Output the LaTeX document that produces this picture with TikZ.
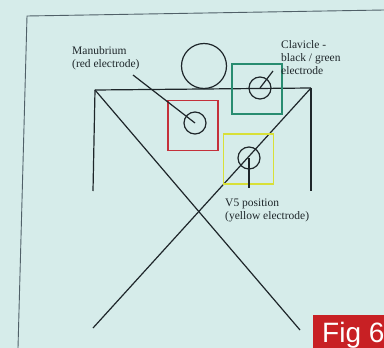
\documentclass[tikz,border=0pt]{standalone}
\usepackage{fontspec}
\setmainfont{Liberation Serif}
\newfontfamily\figfont{Liberation Sans}
\usepackage{xcolor}
\definecolor{screen}{RGB}{214,236,234}
\definecolor{ink}{RGB}{30,38,42}
\definecolor{framegray}{RGB}{80,96,104}
\definecolor{redbox}{RGB}{196,48,58}
\definecolor{greenbox}{RGB}{40,140,112}
\definecolor{yellowbox}{RGB}{216,224,56}
\definecolor{figred}{RGB}{200,32,36}

\begin{document}
\begin{tikzpicture}[x=1pt,y=-1pt]
		\tikzstyle{body}=[draw,line width = 1.2pt,-,ink]
		\tikzstyle{pad}=[draw, circle, line width=1.2pt, ink, minimum size=22pt, inner sep=0pt]
		\tikzstyle{box}=[draw, line width=1.3pt, minimum size=50pt, inner sep=0pt]
		\tikzstyle{note}=[anchor=north west, inner sep=0pt, align=left, text=ink, font=\fontsize{11.5}{13}\selectfont]

		\useasboundingbox (0,0) rectangle (384,348);
		\fill[screen] (0,0) rectangle (384,348);
		\clip (0,0) rectangle (384,348);

		% slide frame
		\draw[framegray, line width=.9pt] (18,348) -- (27,16) -- (384,10);

		% head and trunk
		\node[draw, circle, line width=1.2pt, ink, minimum size=45pt, inner sep=0pt] (head) at (204,66) {};
		\coordinate (lsh) at (95,90);
		\coordinate (rsh) at (311,88);
		\coordinate (lhip) at (93,191);
		\coordinate (rhip) at (311,191);
		\coordinate (lft) at (93,328);
		\coordinate (rft) at (300,330);
		\draw[body] (lsh) -- (rsh);
		\draw[body] (lsh) -- (lhip);
		\draw[body] (rsh) -- (rhip);
		\draw[body] (lsh) -- (rft);
		\draw[body] (rsh) -- (lft);

		% electrodes
		\node[box, redbox] (redsq) at (193,125.5) {};
		\node[box, greenbox] (greensq) at (257,89) {};
		\node[box, yellowbox] (yellowsq) at (248.5,159) {};
		\node[pad] (manu) at (195,123) {};
		\node[pad] (clav) at (260,88) {};
		\node[pad] (vfive) at (249,158) {};

		% labels
		\node[note] (manutxt) at (72,46) {Manubrium\\(red electrode)};
		\node[note] (clavtxt) at (281,40) {Clavicle -\\black / green\\electrode};
		\node[note] (vfivetxt) at (225,199) {V5 position\\(yellow electrode)};

		\coordinate (manutip) at (133,75);
		\coordinate (clavtip) at (273,71);
		\coordinate (vfivetip) at (249,188);
		\draw[body] (manutip) -- (manu.center);
		\draw[body] (clav.center) -- (clavtip);
		\draw[body] (vfive.center) -- (vfivetip);

		% figure tag
		\fill[figred] (313,315) rectangle (384,348);
		\node[anchor=base west, inner sep=0pt, text=white, font=\figfont\fontsize{28}{28}\selectfont] (fig) at (322,342) {Fig 6};
\end{tikzpicture}
\end{document}
